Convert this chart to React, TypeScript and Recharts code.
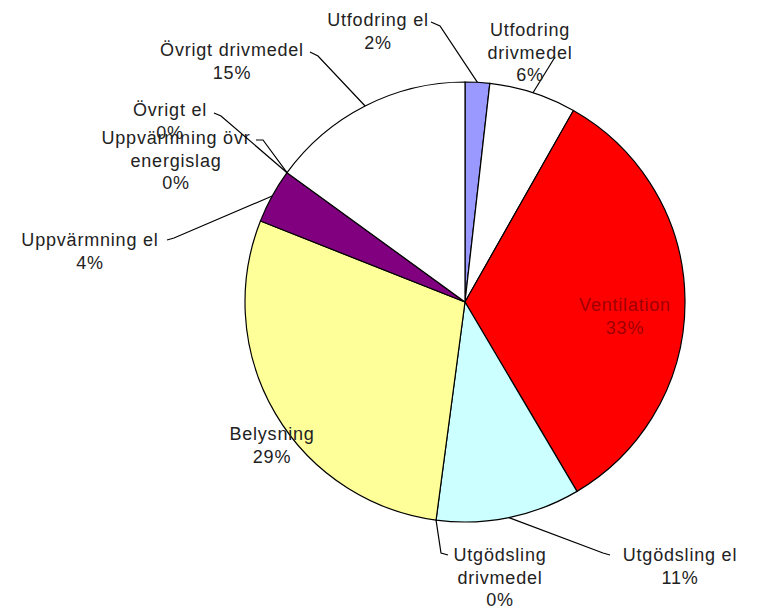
import { PieChart, Pie, Cell } from 'recharts';

const categories = [
  'Utfodring el',
  'Utfodring drivmedel',
  'Ventilation',
  'Utgödsling el',
  'Utgödsling drivmedel',
  'Belysning',
  'Uppvärmning el',
  'Uppvärmning övr energislag',
  'Övrigt el',
  'Övrigt drivmedel',
];
const shares = [1.8, 6.4, 33.3, 10.6, 0, 28.9, 4.0, 0, 0, 15.0];
const labelText = [
  ['Utfodring el'],
  ['Utfodring', 'drivmedel'],
  ['Ventilation'],
  ['Utgödsling el'],
  ['Utgödsling', 'drivmedel'],
  ['Belysning'],
  ['Uppvärmning el'],
  ['Uppvärmning övr', 'energislag'],
  ['Övrigt el'],
  ['Övrigt drivmedel'],
];

const colors = ['#9999FF', '#FFFFFF', '#FF0000', '#CCFFFF', '#FFFFFF', '#FFFF99', '#800080', '#FFFFFF', '#FFFFFF', '#FFFFFF'];

// label placement relative to the pie centre: text centre x, first line y, leader bends
const layout: { dx: number; dy: number; leader?: number[][]; color?: string }[] = [
  { dx: -87, dy: -282, leader: [[-25, -276], [-34, -280]] },
  { dx: 65, dy: -272, leader: [[90, -245]] },
  { dx: 160, dy: 3, color: '#a00000' },
  { dx: 215, dy: 253, leader: [[138, 251], [145, 253]] },
  { dx: 35, dy: 253, leader: [[-24, 251], [-17, 253]] },
  { dx: -193, dy: 132 },
  { dx: -375, dy: -62, leader: [[-291, -64], [-298, -62]] },
  { dx: -289, dy: -164, leader: [[-202, -162], [-209, -162]] },
  { dx: -295, dy: -192, leader: [[-244, -186], [-251, -189]] },
  { dx: -233, dy: -252, leader: [[-147, -246], [-155, -250]] },
];

const data = categories.map((name, i) => ({ name, value: shares[i] }));
const RAD = Math.PI / 180;
const LINE_H = 22.5;

function renderLabel(props: any) {
  const { cx, cy, midAngle, outerRadius, index, percent } = props;
  const l = layout[index];
  const lines = [...labelText[index], `${Math.round(percent * 100)}%`];
  const tx = cx + l.dx;
  const ty = cy + l.dy;
  let leader = null;
  if (l.leader) {
    const ax = cx + outerRadius * Math.cos(-midAngle * RAD);
    const ay = cy + outerRadius * Math.sin(-midAngle * RAD);
    const pts = [[ax, ay], ...l.leader.map(([x, y]) => [cx + x, cy + y])];
    leader = <polyline points={pts.map((p) => p.join(',')).join(' ')} fill="none" stroke="#000" strokeWidth={1.2} />;
  }
  return (
    <g key={`lbl-${index}`}>
      {leader}
      {lines.map((t, j) => (
        <text
          key={j}
          x={tx}
          y={ty + j * LINE_H}
          textAnchor="middle"
          dominantBaseline="central"
          fill={l.color || '#222'}
          fontSize={18}
          letterSpacing={0.8}
          fontFamily="'Liberation Sans', Arial, sans-serif"
        >
          {t}
        </text>
      ))}
    </g>
  );
}

export default function App() {
  return (
    <div style={{ position: 'absolute', left: 0, top: 0, width: 771, height: 609, background: '#fff' }}>
      <PieChart width={771} height={609} margin={{ top: 0, right: 0, bottom: 0, left: 0 }}>
        <Pie
          data={data}
          dataKey="value"
          nameKey="name"
          cx={465}
          cy={302}
          outerRadius={220}
          startAngle={90}
          endAngle={-270}
          stroke="#000"
          strokeWidth={1.2}
          label={renderLabel}
          labelLine={false}
          isAnimationActive={false}
        >
          {data.map((d, i) => (
            <Cell key={d.name} fill={colors[i]} />
          ))}
        </Pie>
      </PieChart>
    </div>
  );
}
